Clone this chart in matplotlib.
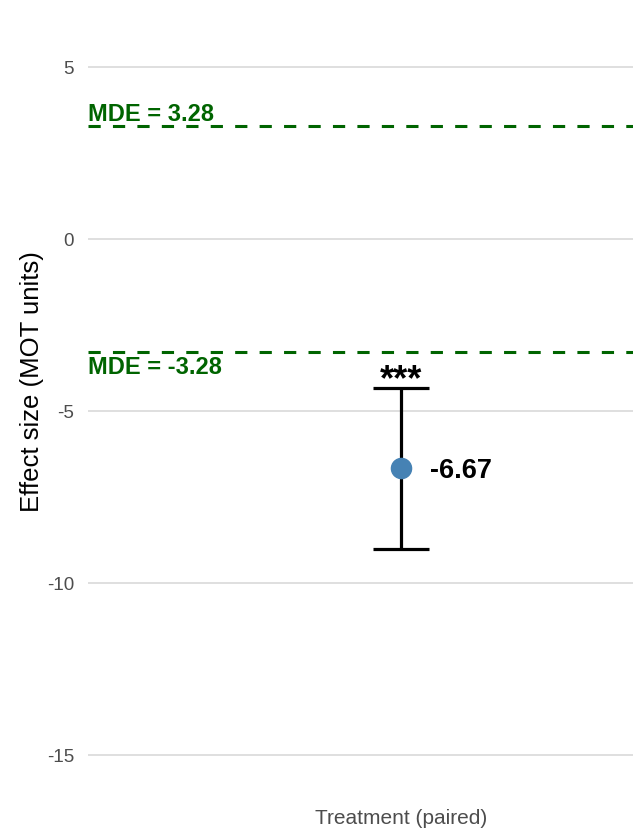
import matplotlib
matplotlib.use("Agg")
import matplotlib.pyplot as plt

plt.rcParams['font.family'] = ['Liberation Sans', 'DejaVu Sans']

# Data
categories = ["Treatment (paired)"]
estimates = [-6.67]
ci_low = [-9.01]
ci_high = [-4.33]
stars = ["***"]
mde = 3.28
yticks = [5, 0, -5, -10, -15]

W, H = 633, 834
fig = plt.figure(figsize=(W / 100, H / 100), dpi=100)
px_top, px_bot, px_left = 10, 800, 88
ax = fig.add_axes([px_left / W, 1 - px_bot / H, 1 - px_left / W, (px_bot - px_top) / H])

ppu = 34.4
ax.set_ylim((239 - px_bot) / ppu, (239 - px_top) / ppu)
ax.set_xlim(0.4, 1.445)

for s in ax.spines.values():
    s.set_visible(False)
ax.set_yticks(yticks)
ax.set_yticklabels([str(t) for t in yticks])
ax.yaxis.grid(True, color='#D9D9D9', linewidth=1.2)
ax.xaxis.grid(False)
ax.set_axisbelow(True)
ax.tick_params(axis='both', length=0, colors='#4D4D4D')
ax.tick_params(axis='y', pad=10, labelsize=13.5)
ax.tick_params(axis='x', pad=6.5, labelsize=15)
xs = list(range(1, len(categories) + 1))
ax.set_xticks(xs)
ax.set_xticklabels(categories)
ax.set_ylabel("Effect size (MOT units)", fontsize=18.5, color='black', labelpad=2)
ax.yaxis.label.set_y((px_bot - 382) / (px_bot - px_top))

green = '#006400'
for v in (mde, -mde):
    ax.axhline(v, color=green, linewidth=2.2, linestyle=(0, (4, 4)))
x0 = ax.get_xlim()[0]
ax.annotate(f"MDE = {mde:.2f}", xy=(x0, mde), xytext=(0, 0), textcoords='offset points',
            ha='left', va='bottom', color=green, fontsize=17, fontweight='bold')
ax.annotate(f"MDE = {-mde:.2f}", xy=(x0, -mde), xytext=(0, -3), textcoords='offset points',
            ha='left', va='top', color=green, fontsize=17, fontweight='bold')

for x, est, lo, hi, st in zip(xs, estimates, ci_low, ci_high, stars):
    ax.errorbar([x], [est], yerr=[[est - lo], [hi - est]], fmt='none', ecolor='black',
                elinewidth=2.3, capsize=20.5, capthick=2.3, zorder=3)
    ax.plot([x], [est], 'o', color='#4682B4', markersize=14.5, zorder=4)
    ax.annotate(f"{est:.2f}", xy=(x, est), xytext=(21, -1.5), textcoords='offset points',
                ha='left', va='center', fontsize=19.5, fontweight='bold', color='black')
    ax.annotate(st, xy=(x, hi), xytext=(0, -7), textcoords='offset points',
                ha='center', va='bottom', fontsize=26, fontweight='bold', color='black')

fig.savefig("out.png", dpi=100)
